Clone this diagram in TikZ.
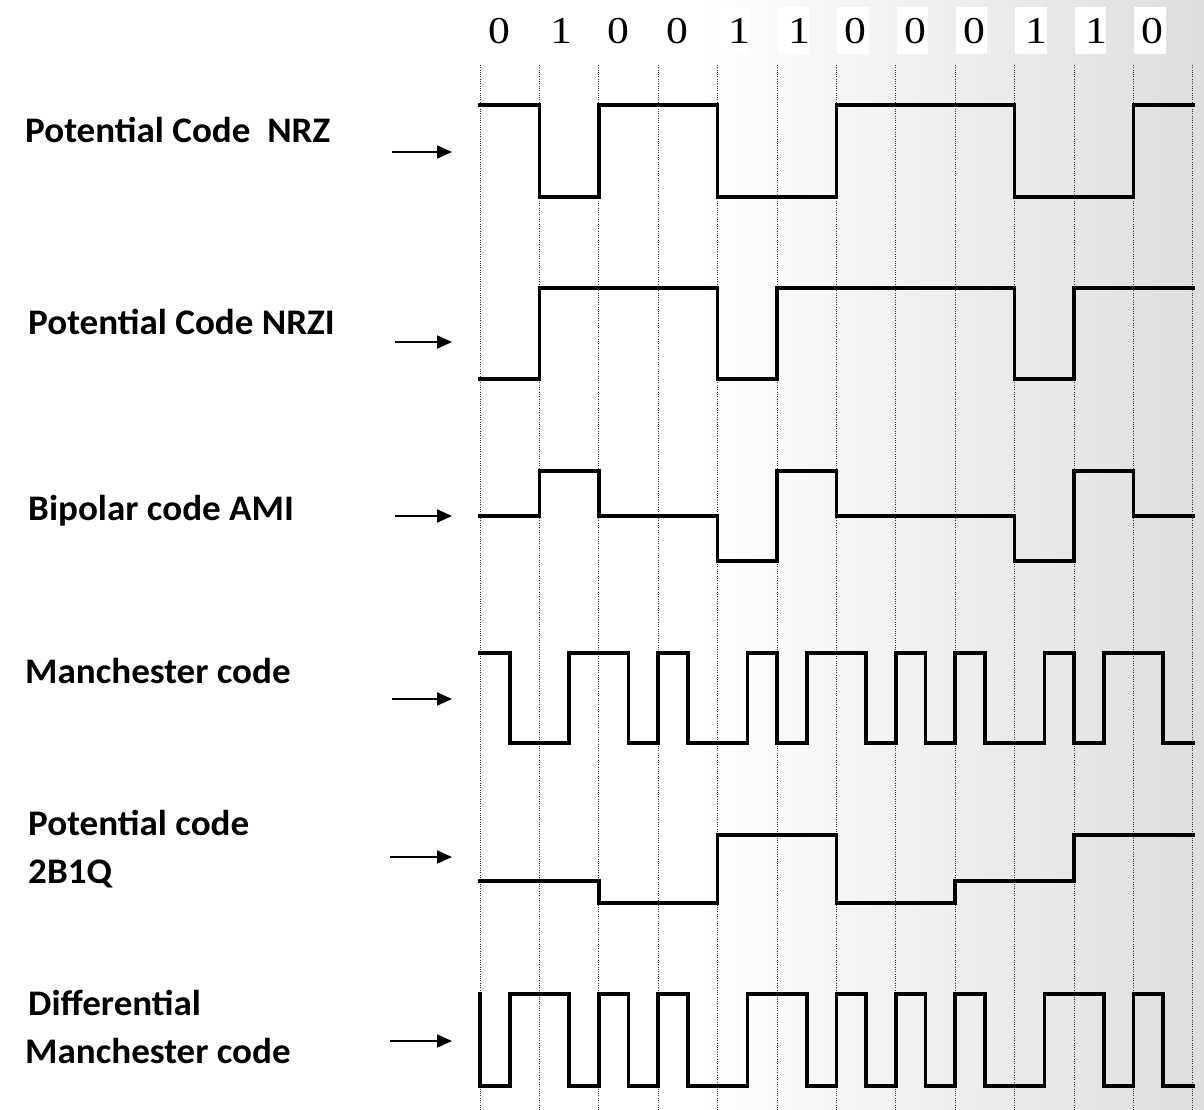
\documentclass[tikz,border=0pt]{standalone}
\usepackage{fontspec}
\setmainfont{Carlito}
\newfontfamily\digitfont{Liberation Serif}
\usetikzlibrary{arrows.meta}
\begin{document}
\begin{tikzpicture}[x=1pt,y=-1pt,
  wave/.style={line width=3.6pt, line join=miter, line cap=rect},
  gridline/.style={black!80, line width=0.9pt, dash pattern=on 1pt off 1.3pt},
  bitbox/.style={fill=white, draw=none, inner sep=0pt, minimum width=31.5pt, minimum height=47pt, anchor=north west},
  digitlabel/.style={inner sep=0pt, xscale=1.15},
  codelabel/.style={font=\bfseries\fontsize{36}{48}\selectfont, anchor=base west, inner sep=0pt, xscale=1.03},
  pointer/.style={line width=2pt, -{Triangle[length=15pt,width=13pt]}}
]
% background
\useasboundingbox (0,0) rectangle (1204,1110);
\fill[white] (0,0) rectangle (1204,1110);
\shade[left color=white, right color=black!13] (700,0) rectangle (1204,1110);

% bit labels
\foreach \b [count=\i from 0] in {0,1,0,0,1,1,0,0,0,1,1,0} {
  \pgfmathsetmacro{\cx}{480+59.4*\i}
  \pgfmathsetmacro{\off}{\b==0 ? 19.5 : 22}
  \node[bitbox] (box\i) at (\cx+0.5,7) {};
  \node[digitlabel] (bit\i) at (\cx+\off,31) {\digitfont\fontsize{38}{38}\selectfont\b};
}

% grid
\foreach \k in {0,...,12} {
  \draw[gridline] ({480+59.4*\k},65) -- ({480+59.4*\k},1110);
}

% waveforms
\begin{scope}[xshift=480pt, x=59.4pt]
  % NRZ
  \draw[wave] (0,105) -- (1,105) -- (1,197) -- (2,197) -- (2,105) -- (4,105) -- (4,197)
    -- (6,197) -- (6,105) -- (9,105) -- (9,197) -- (11,197) -- (11,105) -- (12,105);
  % NRZI
  \draw[wave] (0,379) -- (1,379) -- (1,288) -- (4,288) -- (4,379) -- (5,379) -- (5,288)
    -- (9,288) -- (9,379) -- (10,379) -- (10,288) -- (12,288);
  % AMI
  \draw[wave] (0,516) -- (1,516) -- (1,471) -- (2,471) -- (2,516) -- (4,516) -- (4,561)
    -- (5,561) -- (5,471) -- (6,471) -- (6,516) -- (9,516) -- (9,561) -- (10,561)
    -- (10,471) -- (11,471) -- (11,516) -- (12,516);
  % Manchester
  \draw[wave] (0,653) -- (0.5,653) -- (0.5,743) -- (1.5,743) -- (1.5,653) -- (2.5,653)
    -- (2.5,743) -- (3,743) -- (3,653) -- (3.5,653) -- (3.5,743) -- (4.5,743) -- (4.5,653)
    -- (5,653) -- (5,743) -- (5.5,743) -- (5.5,653) -- (6.5,653) -- (6.5,743) -- (7,743)
    -- (7,653) -- (7.5,653) -- (7.5,743) -- (8,743) -- (8,653) -- (8.5,653) -- (8.5,743)
    -- (9.5,743) -- (9.5,653) -- (10,653) -- (10,743) -- (10.5,743) -- (10.5,653)
    -- (11.5,653) -- (11.5,743) -- (12,743);
  % 2B1Q
  \draw[wave] (0,881) -- (2,881) -- (2,903) -- (4,903) -- (4,835) -- (6,835) -- (6,903)
    -- (8,903) -- (8,881) -- (10,881) -- (10,835) -- (12,835);
  % Differential Manchester
  \draw[wave] (0,994) -- (0,1086) -- (0.5,1086) -- (0.5,994) -- (1.5,994) -- (1.5,1086)
    -- (2,1086) -- (2,994) -- (2.5,994) -- (2.5,1086) -- (3,1086) -- (3,994) -- (3.5,994)
    -- (3.5,1086) -- (4.5,1086) -- (4.5,994) -- (5.5,994) -- (5.5,1086) -- (6,1086)
    -- (6,994) -- (6.5,994) -- (6.5,1086) -- (7,1086) -- (7,994) -- (7.5,994) -- (7.5,1086)
    -- (8,1086) -- (8,994) -- (8.5,994) -- (8.5,1086) -- (9.5,1086) -- (9.5,994)
    -- (10.5,994) -- (10.5,1086) -- (11,1086) -- (11,994) -- (11.5,994) -- (11.5,1086)
    -- (12,1086);
\end{scope}

% labels
\node[codelabel] (nrz) at (25,143) {Potential Code~ NRZ};
\node[codelabel] (nrzi) at (28,334) {Potential Code NRZI};
\node[codelabel] (ami) at (28,520) {Bipolar code AMI};
\node[codelabel] (man) at (25,683) {Manchester code};
\node[codelabel] (qa) at (28,835) {Potential code};
\node[codelabel] (qb) at (28,883) {2B1Q};
\node[codelabel] (dma) at (28,1015) {Differential};
\node[codelabel] (dmb) at (25,1063) {Manchester code};

% arrows
\coordinate (p1s) at (392,152);  \coordinate (p1e) at (452,152);
\coordinate (p2s) at (395,342);  \coordinate (p2e) at (452,342);
\coordinate (p3s) at (395,516);  \coordinate (p3e) at (452,516);
\coordinate (p4s) at (392,699);  \coordinate (p4e) at (452,699);
\coordinate (p5s) at (390,857);  \coordinate (p5e) at (452,857);
\coordinate (p6s) at (390,1041); \coordinate (p6e) at (452,1041);
\foreach \n in {1,...,6} { \draw[pointer] (p\n s) -- (p\n e); }
\end{tikzpicture}
\end{document}
